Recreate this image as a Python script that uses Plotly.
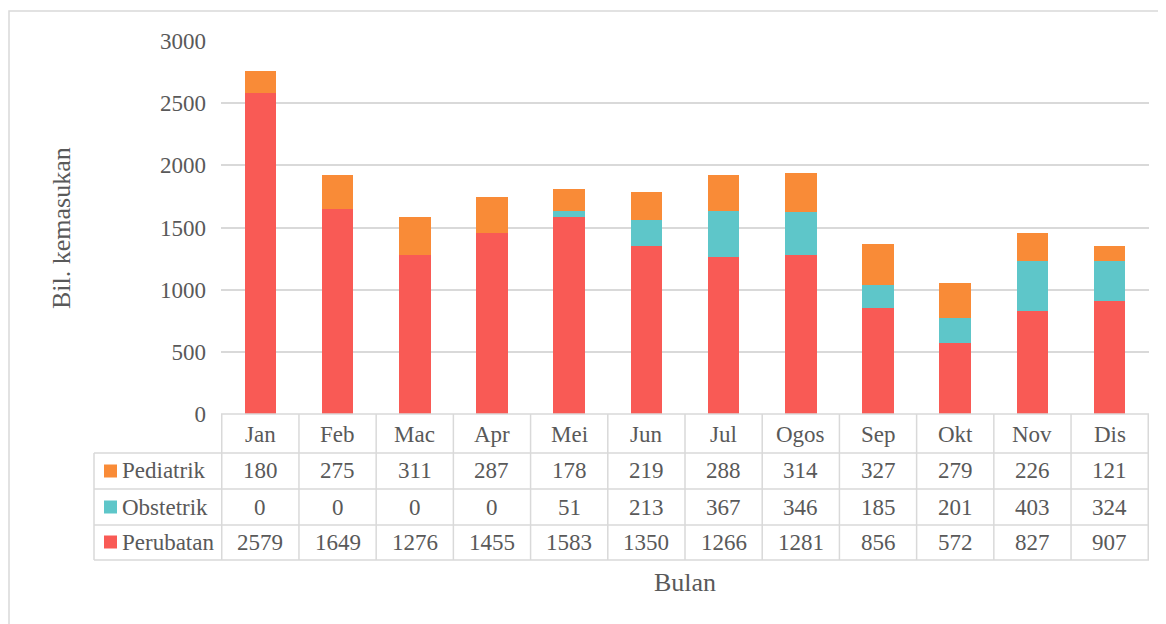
import plotly.graph_objects as go

months = ["Jan", "Feb", "Mac", "Apr", "Mei", "Jun", "Jul", "Ogos", "Sep", "Okt", "Nov", "Dis"]
perubatan = [2579, 1649, 1276, 1455, 1583, 1350, 1266, 1281, 856, 572, 827, 907]
obstetrik = [0, 0, 0, 0, 51, 213, 367, 346, 185, 201, 403, 324]
pediatrik = [180, 275, 311, 287, 178, 219, 288, 314, 327, 279, 226, 121]
y_ticks = [0, 500, 1000, 1500, 2000, 2500, 3000]

series = [("Perubatan", perubatan, "#F95A55"),
          ("Obstetrik", obstetrik, "#5EC6C9"),
          ("Pediatrik", pediatrik, "#F98B37")]

OFF = 8  # page body margin in the browser
W, H = 1166 - OFF, 624 - OFF
# screen-pixel positions of the plot area
SL, SR, ST, SB = 221, 1149, 41, 414
FONT = "Liberation Serif"
TXT = "#595959"
GRID = "#D9D9D9"


def px(x):
    return (x - SL) / (SR - SL)


def py(y):
    return (SB - y) / (SB - ST)


fig = go.Figure()
for name, vals, col in series:
    fig.add_trace(go.Bar(x=months, y=vals, name=name, marker=dict(color=col, line=dict(width=0))))

shapes = []
annotations = []
# outer border (top and left visible)
shapes.append(dict(type="rect", xref="paper", yref="paper", x0=px(9), x1=px(1200), y0=py(11), y1=py(660),
                   line=dict(color="#D9D9D9", width=1.5), fillcolor="rgba(0,0,0,0)", layer="below"))

# table lines
row_lines = [453, 489, 525, 560]
shapes.append(dict(type="line", xref="paper", yref="paper", x0=px(SL), x1=px(SR), y0=py(414), y1=py(414),
                   line=dict(color=GRID, width=1.5)))
for ry in row_lines:
    shapes.append(dict(type="line", xref="paper", yref="paper", x0=px(94), x1=px(SR), y0=py(ry), y1=py(ry),
                       line=dict(color=GRID, width=1.5)))
for i in range(len(months) + 1):
    shapes.append(dict(type="line", xref="x", yref="paper", x0=i - 0.5, x1=i - 0.5, y0=py(414), y1=py(560),
                       line=dict(color=GRID, width=1.5)))
shapes.append(dict(type="line", xref="paper", yref="paper", x0=px(94), x1=px(94), y0=py(453), y1=py(560),
                   line=dict(color=GRID, width=1.5)))

# header labels
for m in months:
    annotations.append(dict(x=m, y=py(434), xref="x", yref="paper", text=m, showarrow=False,
                            xanchor="center", yanchor="middle",
                            font=dict(family=FONT, size=23, color=TXT)))

rows = [("Pediatrik", pediatrik, "#F98B37", 471),
        ("Obstetrik", obstetrik, "#5EC6C9", 507),
        ("Perubatan", perubatan, "#F95A55", 542)]
for name, vals, col, cy in rows:
    shapes.append(dict(type="rect", xref="paper", yref="paper", x0=px(104), x1=px(117),
                       y0=py(cy + 6.5), y1=py(cy - 6.5), fillcolor=col, line=dict(width=0)))
    annotations.append(dict(x=px(120), y=py(cy), xref="paper", yref="paper", text=name, showarrow=False,
                            xanchor="left", yanchor="middle", font=dict(family=FONT, size=23, color=TXT)))
    for m, v in zip(months, vals):
        annotations.append(dict(x=m, y=py(cy), xref="x", yref="paper", text=str(v), showarrow=False,
                                xanchor="center", yanchor="middle",
                                font=dict(family=FONT, size=23, color=TXT)))

annotations.append(dict(x=px(61), y=py(228), xref="paper", yref="paper", text="Bil. kemasukan",
                        showarrow=False, textangle=-90, xanchor="center", yanchor="middle",
                        font=dict(family=FONT, size=26, color=TXT)))
annotations.append(dict(x=px(685), y=py(582), xref="paper", yref="paper", text="Bulan",
                        showarrow=False, xanchor="center", yanchor="middle",
                        font=dict(family=FONT, size=26, color=TXT)))

fig.update_layout(
    width=W, height=H,
    margin=dict(l=SL - OFF, r=W - (SR - OFF), t=ST - OFF, b=H - (SB - OFF)),
    barmode="stack", bargap=0.59,
    showlegend=False,
    plot_bgcolor="white", paper_bgcolor="white",
    font=dict(family=FONT, color=TXT),
    shapes=shapes, annotations=annotations,
    xaxis=dict(showticklabels=False, showgrid=False, zeroline=False, showline=False, ticks=""),
    yaxis=dict(range=[0, 3000], tickvals=y_ticks, showgrid=True, gridcolor=GRID, gridwidth=1.5,
               zeroline=False, showline=False, ticks="", ticklabelstandoff=14,
               tickfont=dict(family=FONT, size=23, color=TXT)),
)

fig.write_html("out.html")
